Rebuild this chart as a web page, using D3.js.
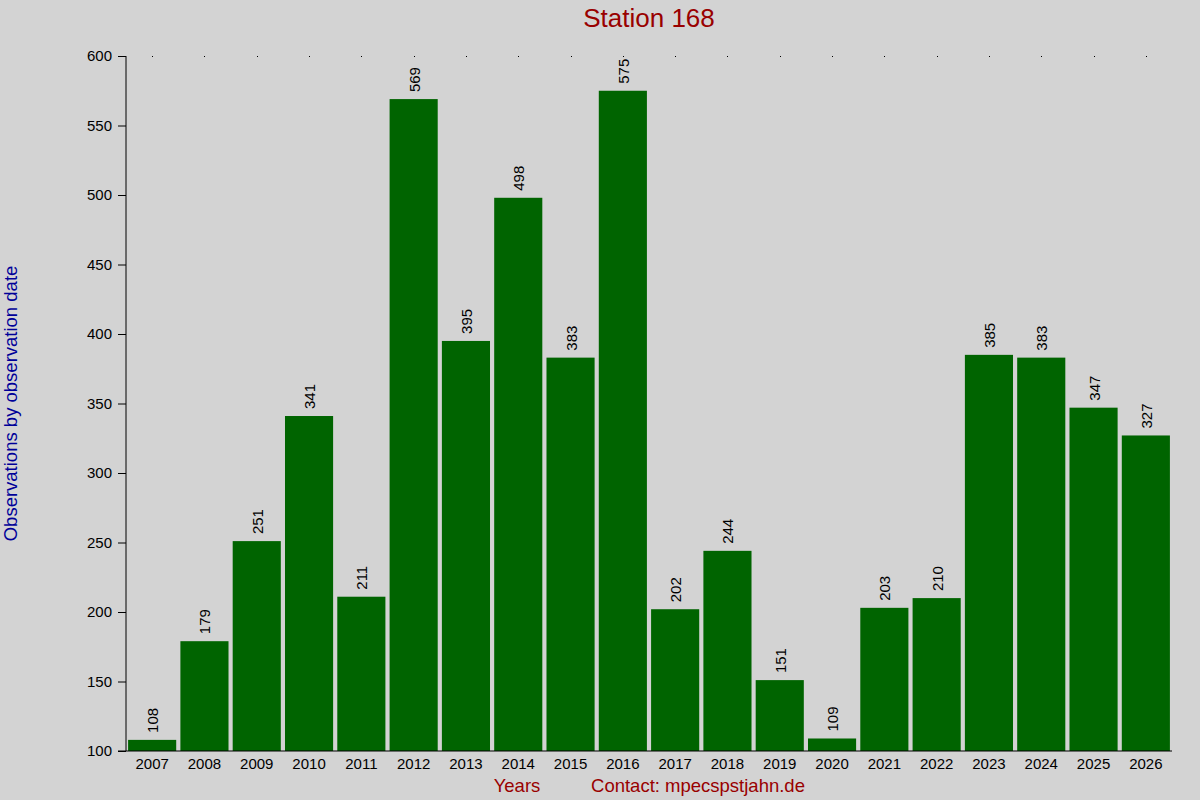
<!DOCTYPE html>
<html>
<head>
<meta charset="utf-8">
<script src="https://cdn.jsdelivr.net/npm/d3@7"></script>
<style>
  body { margin: 0; background: #d3d3d3; }
  text { font-family: "Liberation Sans", Arial, sans-serif; }
</style>
</head>
<body>
<script>
var years = ["2007", "2008", "2009", "2010", "2011", "2012", "2013", "2014", "2015", "2016",
             "2017", "2018", "2019", "2020", "2021", "2022", "2023", "2024", "2025", "2026"];
var counts = [108, 179, 251, 341, 211, 569, 395, 498, 383, 575,
              202, 244, 151, 109, 203, 210, 385, 383, 347, 327];
var yTicks = [100, 150, 200, 250, 300, 350, 400, 450, 500, 550, 600];

var width = 1200;
var height = 800;
var margin = {left: 126, top: 56, right: 28, bottom: 49};

var svg = d3.select("body").append("svg").attr("width", width).attr("height", height);

svg.append("rect").attr("width", width).attr("height", height).attr("fill", "#d3d3d3");

var x = d3.scaleBand().domain(years)
    .range([margin.left, width - margin.right])
    .paddingInner(0.08).paddingOuter(0.04);
var y = d3.scaleLinear().domain([100, 600]).range([height - margin.bottom, margin.top]);

// bars
svg.selectAll("rect.bar")
    .data(years)
    .enter().append("rect")
    .attr("class", "bar")
    .attr("x", function(d){ return x(d); })
    .attr("width", x.bandwidth())
    .attr("y", function(d, i){ return y(counts[i]); })
    .attr("height", function(d, i){ return y(100) - y(counts[i]); })
    .attr("fill", "#006400");

// value labels
svg.selectAll("text.val")
    .data(years)
    .enter().append("text")
    .attr("class", "val")
    .attr("transform", function(d, i){
        return "translate(" + (x(d) + x.bandwidth() / 2 + 6) + "," + (y(counts[i]) - 7) + ") rotate(-90)";
    })
    .attr("font-size", 15)
    .attr("fill", "#000")
    .text(function(d, i){ return counts[i]; });

// small dots at top for each category
svg.selectAll("rect.dot")
    .data(years)
    .enter().append("rect")
    .attr("class", "dot")
    .attr("x", function(d){ return Math.round(x(d) + x.bandwidth() / 2); })
    .attr("y", margin.top)
    .attr("width", 1).attr("height", 1)
    .attr("fill", "#000");

// y axis
var yAxis = d3.axisLeft(y).tickValues(yTicks).tickSize(8).tickPadding(6);
var gy = svg.append("g").attr("transform", "translate(" + margin.left + ",0)").call(yAxis);
gy.select(".domain").attr("d", "M0," + margin.top + "V" + (height - margin.bottom));
gy.selectAll("text").attr("font-size", 15).attr("fill", "#000")
    .style("font-family", "'Liberation Sans', Arial, sans-serif");

// x axis
var xAxis = d3.axisBottom(x).tickSize(0).tickPadding(7);
var gx = svg.append("g").attr("transform", "translate(0," + (height - margin.bottom) + ")").call(xAxis);
gx.select(".domain").attr("d", "M" + (margin.left - 8) + ",0H" + (width - margin.right));
gx.selectAll("text").attr("font-size", 15).attr("fill", "#000")
    .style("font-family", "'Liberation Sans', Arial, sans-serif");

// title
svg.append("text")
    .attr("x", (margin.left + width - margin.right) / 2)
    .attr("y", 27)
    .attr("text-anchor", "middle")
    .attr("font-size", 26)
    .attr("fill", "#990000")
    .text("Station 168");

// y label
svg.append("text")
    .attr("transform", "translate(17," + ((margin.top + height - margin.bottom) / 2) + ") rotate(-90)")
    .attr("text-anchor", "middle")
    .attr("font-size", 18.5)
    .attr("fill", "#000099")
    .text("Observations by observation date");

// bottom labels
svg.append("text")
    .attr("x", 517).attr("y", 792)
    .attr("text-anchor", "middle")
    .attr("font-size", 18.5)
    .attr("fill", "#990000")
    .text("Years");

svg.append("text")
    .attr("x", 698).attr("y", 792)
    .attr("text-anchor", "middle")
    .attr("font-size", 18.5)
    .attr("fill", "#990000")
    .text("Contact: mpecspstjahn.de");
</script>
</body>
</html>
